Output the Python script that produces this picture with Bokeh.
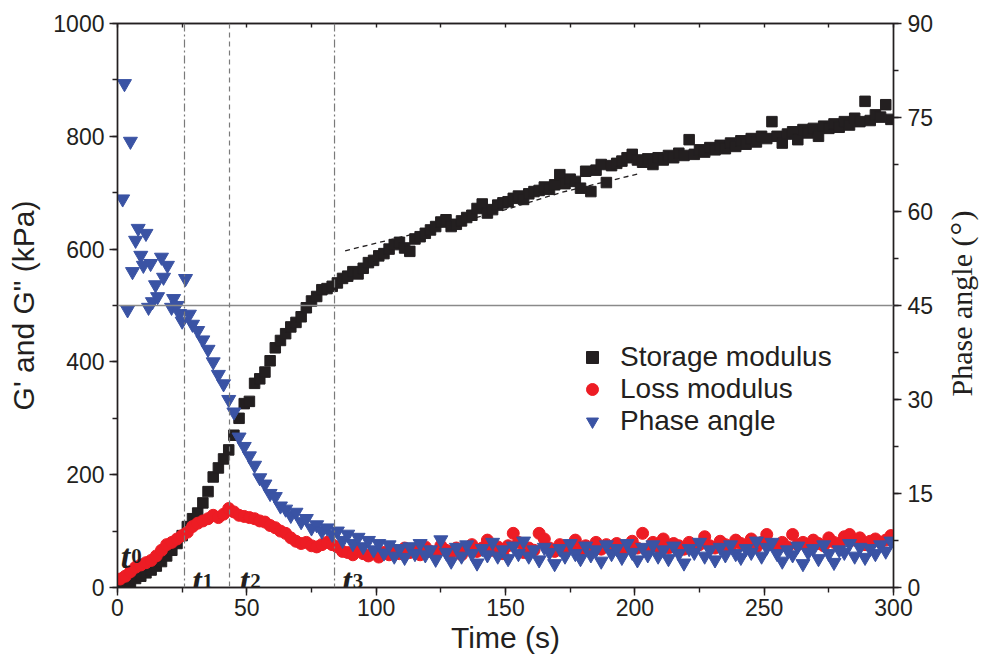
import math
from bokeh.plotting import figure
from bokeh.layouts import row
from bokeh.models import (Range1d, LinearAxis, Span, Label, Legend, LegendItem,
                          SingleIntervalTicker, CustomJSTickFormatter)
from bokeh.embed import file_html
from bokeh.resources import INLINE

# ---------------- data ----------------
time_s = [
    1, 3, 5, 7, 9, 11, 13, 15, 17, 19,
    21, 23, 25, 27, 29, 31, 33, 35, 37, 39,
    41, 43, 45, 47, 49, 51, 53, 55, 57, 59,
    61, 63, 65, 67, 69, 71, 73, 75, 77, 79,
    81, 83, 85, 87, 89, 91, 93, 95, 97, 99,
    101, 103, 105, 107, 109, 111, 113, 115, 117, 119,
    121, 123, 125, 127, 129, 131, 133, 135, 137, 139,
    141, 143, 145, 147, 149, 151, 153, 155, 157, 159,
    161, 163, 165, 167, 169, 171, 173, 175, 177, 179,
    181, 183, 185, 187, 189, 191, 193, 195, 197, 199,
    201, 203, 205, 207, 209, 211, 213, 215, 217, 219,
    221, 223, 225, 227, 229, 231, 233, 235, 237, 239,
    241, 243, 245, 247, 249, 251, 253, 255, 257, 259,
    261, 263, 265, 267, 269, 271, 273, 275, 277, 279,
    281, 283, 285, 287, 289, 291, 293, 295, 297, 299,
]

storage_kpa = [
    2, 4, 10, 16, 20, 26, 31, 38, 46, 56,
    66, 78, 92, 108, 122, 132, 150, 170, 196, 212,
    228, 244, 270, 300, 326, 330, 362, 370, 382, 402,
    425, 438, 450, 462, 470, 480, 496, 508, 516, 528,
    530, 534, 540, 548, 552, 560, 556, 566, 576, 580,
    588, 592, 600, 608, 612, 602, 596, 618, 622, 628,
    634, 640, 648, 652, 640, 644, 650, 656, 660, 672,
    680, 664, 670, 678, 682, 684, 690, 694, 688, 698,
    702, 704, 710, 706, 714, 732, 716, 724, 720, 708,
    738, 702, 740, 750, 718, 748, 752, 756, 762, 768,
    758, 754, 760, 750, 762, 758, 766, 762, 770, 766,
    794, 768, 776, 772, 780, 776, 784, 778, 788, 782,
    792, 786, 796, 790, 800, 796, 826, 800, 788, 804,
    808, 794, 812, 806, 814, 800, 818, 814, 822, 816,
    826, 820, 832, 826, 862, 828, 838, 834, 856, 830,
]

loss_kpa = [
    15, 20, 28, 36, 40, 44, 48, 56, 66, 76,
    80, 86, 92, 98, 108, 114, 118, 122, 128, 124,
    130, 140, 134, 128, 126, 124, 122, 118, 116, 110,
    106, 100, 96, 88, 82, 78, 80, 74, 72, 76,
    80, 76, 72, 64, 62, 58, 66, 60, 56, 62,
    54, 62, 58, 66, 60, 70, 62, 68, 58, 72,
    64, 60, 74, 66, 62, 70, 58, 68, 76, 64,
    70, 84, 66, 72, 60, 74, 96, 80, 62, 70,
    66, 96, 86, 70, 64, 76, 68, 72, 84, 66,
    74, 70, 80, 68, 76, 72, 78, 66, 74, 82,
    70, 96, 68, 80, 72, 86, 70, 78, 74, 68,
    80, 72, 76, 90, 74, 70, 82, 76, 72, 84,
    78, 74, 86, 72, 80, 94, 76, 74, 80, 72,
    94, 76, 80, 70, 84, 78, 74, 88, 80, 76,
    90, 94, 84, 88, 76, 82, 86, 80, 84, 92,
]

phase_early_time_s = [2, 2.7, 3.9, 5, 5.8, 7, 8, 9, 10, 11, 12, 12.8, 13.5,
                      14.7, 15.5, 17, 17.8, 19.3, 20.9, 21.7, 23, 24, 25, 26.3, 27.8]
phase_early_deg = [62, 80.4, 44.3, 71.2, 50.4, 55.4, 57.3, 53, 51.4, 56.5, 44.7, 51.7, 45.6,
                   48.3, 46.4, 52.7, 49.5, 51.4, 44.7, 46.1, 45, 43.7, 42.5, 49.3, 43.6]
phase_late_deg = [  # at time_s from 29 s onwards
    42, 41, 39.5, 38, 36, 34, 32.5, 30, 28, 24,
    22.5, 21, 19.5, 17.5, 16.5, 15, 14.5, 13, 12.5, 11.5,
    12, 10.5, 11, 9.5, 10, 9, 9.5, 8.5, 9, 7.5,
    8.5, 7, 8, 6.5, 7.5, 6, 7, 5.5, 6.8, 5,
    6.2, 4.8, 6.5, 5.4, 7, 5.2, 6, 4.5, 7.6, 5.6,
    4.2, 6.4, 5, 6.8, 5.4, 3.9, 6.2, 5.2, 7.2, 5,
    6, 4.6, 6.6, 5.4, 7.4, 5, 6, 4.4, 6.4, 5.6,
    3.8, 6.2, 5, 7, 5.4, 4.6, 6.6, 5.2, 6, 4.2,
    6.8, 5.4, 6.2, 4.8, 7, 5.6, 4.4, 6.4, 5.2, 6.8,
    5, 6, 4.6, 6.6, 5.4, 3.9, 6.2, 5.6, 7.2, 5,
    6, 4.4, 6.4, 5.2, 6.8, 5.4, 4.8, 6.2, 5.6, 7.4,
    5, 6.4, 7.2, 5.4, 4.2, 6, 5.2, 6.6, 3.8, 5.6,
    6.2, 4.6, 6.8, 5.4, 4, 6, 5.6, 7, 5, 6.4,
    4.8, 6.2, 5.4, 6.8, 5.8, 7.4,
]
phase_time_s = phase_early_time_s + time_s[14:]
phase_deg = phase_early_deg + phase_late_deg

fit_time_s = [88, 120, 150, 172, 201]
fit_storage_kpa = [597, 633, 670, 701, 733]

event_times_s = [25.9, 43.3, 83.9]
event_styles = ["8 3 2 3", "5 4", "8 3 2 3"]
crossover_kpa = 500

legend_labels = ["Storage modulus", "Loss modulus", "Phase angle"]

# ---------------- figure ----------------
INK = "#231f20"
RED = "#ed1c24"
BLUE = "#3a53a4"
SANS = "Liberation Sans"
SERIF = "Liberation Serif"

p = figure(width=940, height=666, x_range=Range1d(0, 300), y_range=Range1d(0, 1000),
           output_backend="svg", toolbar_location=None,
           min_border_left=117, min_border_right=47, min_border_top=23, min_border_bottom=79)
p.extra_y_ranges = {"phase": Range1d(0, 90)}
p.grid.visible = False
p.outline_line_color = INK
p.outline_line_width = 1.4
p.background_fill_color = "white"
p.border_fill_color = "white"


def style_axis(ax):
    ax.axis_line_color = INK
    ax.axis_line_width = 1.4
    ax.major_tick_line_color = INK
    ax.minor_tick_line_color = INK
    ax.major_tick_line_width = 1.4
    ax.minor_tick_line_width = 1.4
    ax.major_tick_out = 8
    ax.major_tick_in = 0
    ax.minor_tick_out = 5
    ax.minor_tick_in = 0
    ax.major_label_text_font = SANS
    ax.major_label_text_font_size = "23px"
    ax.major_label_text_color = INK
    ax.major_label_standoff = 4
    ax.axis_label_text_font = SANS
    ax.axis_label_text_font_size = "30px"
    ax.axis_label_text_font_style = "normal"
    ax.axis_label_text_color = INK


xa = p.xaxis[0]
xa.ticker = SingleIntervalTicker(interval=50, num_minor_ticks=2)
style_axis(xa)
xa.axis_label = "Time (s)"
xa.major_label_standoff = 3
xa.axis_label_standoff = 2

ya = p.yaxis[0]
ya.ticker = SingleIntervalTicker(interval=200, num_minor_ticks=2)
style_axis(ya)
ya.axis_label = "G' and G\" (kPa)"
ya.major_label_standoff = 5
ya.axis_label_standoff = 10

ra = LinearAxis(y_range_name="phase", ticker=SingleIntervalTicker(interval=15, num_minor_ticks=2))
style_axis(ra)
ra.major_label_standoff = 6
p.add_layout(ra, "right")

ta = LinearAxis(ticker=SingleIntervalTicker(interval=25, num_minor_ticks=1),
                formatter=CustomJSTickFormatter(code="return ''"))
style_axis(ta)
ta.major_tick_out = 0
ta.major_tick_in = 4
ta.minor_tick_out = 0
ta.major_label_standoff = 0
p.add_layout(ta, "above")

# reference lines
p.add_layout(Span(location=crossover_kpa, dimension="width", line_color="#8a8a8a", line_width=1.5))
for t, dash in zip(event_times_s, event_styles):
    p.add_layout(Span(location=t, dimension="height", line_color="#7a7a7a",
                      line_width=1.2, line_dash=dash))

p.line(fit_time_s, fit_storage_kpa, line_color=INK, line_width=1.3, line_dash="5 4")

r_s = p.scatter(time_s, storage_kpa, marker="square", size=10.5, color=INK)
r_l = p.scatter(time_s, loss_kpa, marker="circle", size=12, color=RED)
r_p = p.scatter(phase_time_s, phase_deg, marker="inverted_triangle", size=14, color=BLUE,
                y_range_name="phase")

legend = Legend(items=[LegendItem(label=legend_labels[0], renderers=[r_s]),
                       LegendItem(label=legend_labels[1], renderers=[r_l]),
                       LegendItem(label=legend_labels[2], renderers=[r_p])],
                location=(460, 150), padding=0, margin=0, spacing=0,
                glyph_width=30, glyph_height=30, label_height=32, label_standoff=13,
                label_text_font=SANS, label_text_font_size="28px",
                label_text_color=INK, border_line_alpha=0, background_fill_alpha=0)
p.add_layout(legend)

# t0..t3 markers
names = ["0", "1", "2", "3"]
label_x = [1.3, event_times_s[0] + 3.0, event_times_s[1] + 4.0, event_times_s[2] + 3.0]
label_y = [55, 12, 12, 12]
for n, lx, ly in zip(names, label_x, label_y):
    p.add_layout(Label(x=lx, y=ly, text="t", text_font=SERIF,
                       text_font_style="bold italic", text_font_size="34px",
                       text_color=INK, text_baseline="alphabetic"))
    p.add_layout(Label(x=lx + 4.0, y=ly, text=n, text_font=SERIF,
                       text_font_style="bold", text_font_size="21px",
                       text_color=INK, text_baseline="alphabetic"))

# ---- narrow strip on the right carrying the right-axis title (reads upwards) ----
q = figure(width=43, height=666, x_range=Range1d(0, 1), y_range=Range1d(0, 1),
           output_backend="svg", toolbar_location=None, min_border=0,
           min_border_left=0, min_border_right=0, min_border_top=0, min_border_bottom=0)
q.axis.visible = False
q.grid.visible = False
q.outline_line_color = None
q.background_fill_color = "white"
q.border_fill_color = "white"
ang = math.pi / 2
q.add_layout(Label(x=21, y=191, x_units="screen", y_units="screen", angle=ang,
                   text="Phase angle (", text_font=SERIF, text_font_size="30px",
                   text_color=INK, text_align="left", text_baseline="alphabetic"))
q.add_layout(Label(x=21, y=352, x_units="screen", y_units="screen", angle=ang,
                   text="°", text_font=SERIF, text_font_size="34px",
                   text_color=INK, text_align="left", text_baseline="alphabetic"))
q.add_layout(Label(x=21, y=367, x_units="screen", y_units="screen", angle=ang,
                   text=")", text_font=SERIF, text_font_size="30px",
                   text_color=INK, text_align="left", text_baseline="alphabetic"))

layout = row(p, q, spacing=0)
open("out.html", "w").write(file_html(layout, INLINE))
